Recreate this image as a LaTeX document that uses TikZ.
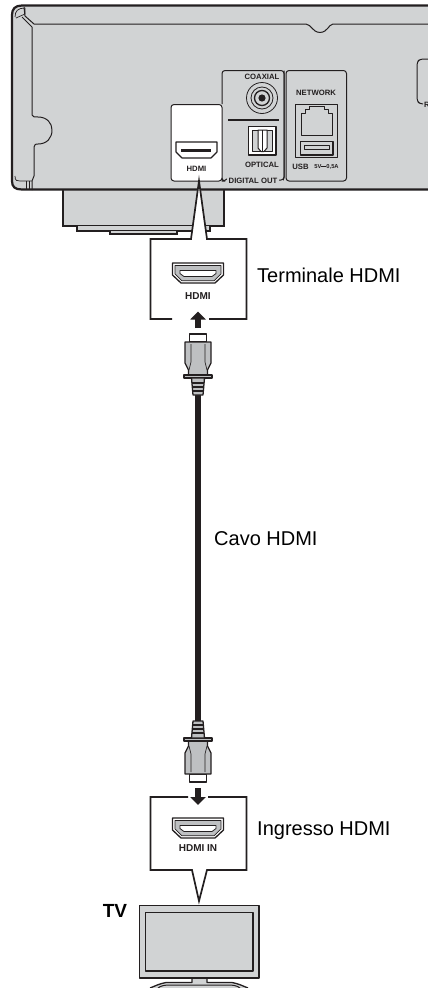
\documentclass[tikz,border=0pt]{standalone}
\usepackage{fontspec}
\setmainfont{Liberation Sans}
\usepackage{xcolor}
\usetikzlibrary{arrows.meta}
\definecolor{PanelGray}{RGB}{209,211,212}
\definecolor{PlugGray}{RGB}{190,192,194}
\definecolor{LineDark}{RGB}{35,31,32}
\tikzset{
    outline/.style={draw=LineDark, line width=1pt, line join=round},
    heavy/.style={draw=LineDark, line width=1.7pt, line join=miter},
    tinylabel/.style={font=\bfseries\fontsize{7.7}{8}\selectfont, text=LineDark, inner sep=0pt},
    calllabel/.style={font=\fontsize{20}{22}\selectfont, text=black, inner sep=0pt, anchor=west},
    flowarrow/.style={-{Triangle[length=8pt,width=15pt]}, line width=6pt, draw=LineDark}
}
\newcommand{\hdmisocket}[2]{%
\begin{scope}[shift={(#1,#2)}]
\draw[outline, line width=1.3pt, fill=white] (-25.5,-10) -- (25.5,-10) -- (25.5,2) -- (17,10) -- (-17,10) -- (-25.5,2) -- cycle;
\draw[outline, line width=0.7pt, fill=PlugGray] (-23,-7.5) -- (23,-7.5) -- (23,1) -- (16,7.8) -- (-16,7.8) -- (-23,1) -- cycle;
\draw[outline, line width=0.8pt, fill=white] (-18,-2.5) -- (18,-2.5) -- (18,0.5) -- (14,3.5) -- (-14,3.5) -- (-18,0.5) -- cycle;
\end{scope}}
\begin{document}
\begin{tikzpicture}[x=1pt, y=-1pt]
\useasboundingbox (0,0) rectangle (428,988);

% Player stand
\draw[heavy, fill=PanelGray] (63,190) -- (63,226) -- (224,226) -- (224,190);
\draw[heavy, fill=PanelGray] (77,226) -- (77,231) -- (210,231) -- (210,226);
\draw[heavy, fill=PanelGray] (110,231) -- (110,234) -- (177,234) -- (177,231);

% Player rear panel
\fill[PanelGray] (428,5) -- (22,5) .. controls (15,5) and (12,9) .. (12,15) -- (12,181) .. controls (12,187) and (15,190) .. (22,190) -- (428,190) -- cycle;
\draw[LineDark, line width=2.2pt] (428,5.5) -- (22,5.5) .. controls (15,5.5) and (12,9) .. (12,15) -- (12,181) .. controls (12,187) and (15,189.5) .. (22,189.5) -- (428,189.5);
\draw[outline, line width=0.7pt] (15,17) .. controls (15,11) and (18,8) .. (25,8) -- (25,14) -- (16,18);
\draw[outline] (24,7) -- (25,16) -- (34,24) -- (306,24) .. controls (312,25) and (312,32) .. (320,32.5) .. controls (328,32) and (328,25) .. (333,24) -- (428,24);
\draw[outline] (22,17) -- (32,27) -- (32,115) .. controls (32,117) and (35,117) .. (38,117) .. controls (47,117) and (52,123) .. (52,130) .. controls (52,138) and (47,144) .. (38,144) .. controls (36,144) and (34,144) .. (34,147) -- (34,176) -- (32,181) -- (32,190);
\draw[outline, line width=0.7pt] (15,176) .. controls (15,181) and (17,181) .. (20,181) -- (32,181);
\draw[outline, line width=0.7pt] (26,181) -- (26,189) (29,181) -- (29,189);

% Terminal frames
\draw[outline, fill=PanelGray, rounded corners=3pt] (222,104) -- (222,70.5) -- (284,70.5) -- (284,181) -- (228,181);
\draw[outline, fill=PanelGray, rounded corners=3pt] (286,70.5) rectangle (346.5,181);
\fill[PanelGray] (226,176) rectangle (283,185);
\draw[outline, rounded corners=3pt] (222,178) -- (222,181) -- (225,181) -- (227,179);
\draw[outline, rounded corners=3pt] (279,180) -- (284,180) -- (284,70.5);
\draw[outline, rounded corners=3pt] (428,59) -- (420,59) -- (417,62) -- (417,101) -- (420,104) -- (423,104);
\node[tinylabel, anchor=west] (pwrlabel) at (424,105) {R};

% HDMI terminal on player
\draw[outline, fill=white, rounded corners=3pt] (171,104.5) rectangle (222,181);
\draw[outline, line width=1.1pt, fill=white] (176,142) -- (217,142) -- (217,152) -- (211,158) -- (182,158) -- (176,152) -- cycle;
\fill[LineDark] (181,148.5) rectangle (211,152);
\node[tinylabel] (hdmiplayer) at (196.5,168.5) {HDMI};

% Coaxial terminal
\node[tinylabel] (coaxlabel) at (262,77) {COAXIAL};
\foreach \r/\w in {15.5/0.8, 11/0.8, 7.5/1.3} {
    \draw[LineDark, line width=\w pt] (262,98) circle (\r);
}
\fill[LineDark] (262,98) circle (3.6);
\draw[LineDark, line width=1.8pt] (228,120) -- (279,120);

% Optical terminal
\draw[outline, line width=1.3pt, fill=white] (248.5,126.5) rectangle (276,155);
\draw[outline, fill=PanelGray] (252,130) -- (272.5,130) -- (272.5,151) -- (252,151) -- cycle;
\draw[outline, fill=white] (258,130) -- (267,130) -- (267,148) -- (264,151.5) -- (261,151.5) -- (258,148) -- cycle;
\draw[outline, line width=0.7pt] (262.5,130) -- (262.5,151);
\node[tinylabel] (optlabel) at (262,164.5) {OPTICAL};
\node[tinylabel, fill=PanelGray, inner xsep=2pt, inner ysep=1pt] (digitalout) at (253,180.5) {DIGITAL OUT};

% Network and USB terminals
\node[tinylabel] (netlabel) at (316,92.5) {NETWORK};
\draw[outline] (295.5,104.5) -- (337.5,104.5) -- (337.5,157.5) -- (295.5,157.5) -- cycle;
\draw[outline, fill=PanelGray] (301,135) -- (301,113) -- (305,113) -- (305,109) -- (309,109) -- (309,106.5) -- (324,106.5) -- (324,109) -- (328,109) -- (328,113) -- (332.5,113) -- (332.5,135) -- cycle;
\draw[outline, line width=1.3pt] (300.5,141.5) rectangle (333,155);
\draw[outline, line width=0.7pt] (304,145) rectangle (329.5,149);
\node[tinylabel] (usblabel) at (300.5,167) {USB};
\node[tinylabel, font=\bfseries\fontsize{5.8}{6}\selectfont] (usbvolt) at (326.5,167) {5V\rule[1.3pt]{5pt}{1.2pt}0,5A};

% Upper callout
\draw[heavy, fill=white] (172,319) -- (150.5,319) -- (150.5,239) -- (191,239) -- (199,181) -- (207,239) -- (246.5,239) -- (246.5,319) -- (209,319);
\hdmisocket{198}{273}
\node[tinylabel, font=\bfseries\fontsize{10}{11}\selectfont] (hdmiterm) at (198,296) {HDMI};
\node[calllabel] (termlabel) at (257,275) {Terminale HDMI};

% Cable
\coordinate (cabletop) at (198,393);
\coordinate (cablebottom) at (198,724);
\draw[LineDark, line width=5.5pt] (cabletop) -- (cablebottom);
\node[calllabel] (cablelabel) at (214,539) {Cavo HDMI};

% Plugs
\foreach \ypos/\ydir in {334/1, 782/-1} {
    \begin{scope}[shift={(198,\ypos)}, yscale=\ydir]
    \draw[outline, line width=1.3pt, fill=white] (-8.5,0) rectangle (8.5,8);
    \draw[outline, line width=1.3pt, fill=PlugGray] (-13,8) -- (13,8) -- (13,29) -- (9.5,36) -- (9.5,41) -- (-9.5,41) -- (-9.5,36) -- (-13,29) -- cycle;
    \draw[outline, line width=0.7pt] (-7,10) -- (-7,28) -- (-9,36) (7,10) -- (7,28) -- (9,36);
    \draw[outline, line width=1.3pt, fill=PlugGray] (-14,41) rectangle (14,44);
    \draw[outline, line width=1.3pt, fill=PlugGray] (-6.5,44) -- (6.5,44) -- (5,61) -- (-5,61) -- cycle;
    \foreach \l in {49,53,57} {
        \draw[outline, line width=1.1pt] (-6,\l) -- (6,\l);
    }
    \end{scope}
}

% Lower callout
\draw[heavy, fill=white] (188,797) -- (150.5,797) -- (150.5,870) -- (192,870) -- (199,901) -- (207,870) -- (246.5,870) -- (246.5,797) -- (208,797);
\hdmisocket{198}{828}
\node[tinylabel, font=\bfseries\fontsize{10}{11}\selectfont] (hdmiin) at (198,848) {HDMI IN};
\node[calllabel] (inlabel) at (257,831) {Ingresso HDMI};

% Arrows into the terminals
\coordinate (arrowupstart) at (198,328);
\coordinate (arrowupend) at (198,311.5);
\draw[flowarrow] (arrowupstart) -- (arrowupend);
\coordinate (arrowdownstart) at (198,788);
\coordinate (arrowdownend) at (198,805);
\draw[flowarrow] (arrowdownstart) -- (arrowdownend);

% TV
\node[font=\bfseries\fontsize{19}{20}\selectfont, inner sep=0pt] (tvlabel) at (115,910.5) {TV};
\draw[outline, line width=1.3pt, fill=PanelGray] (150,988) .. controls (155,986) and (160,983.5) .. (166,982.5) -- (192,982.5) -- (192,978) -- (207,978) -- (207,982.5) -- (232,982.5) .. controls (238,983.5) and (243,986) .. (248,988);
\draw[outline, line width=1pt] (158,988) .. controls (161,985.5) and (165,985) .. (170,985) -- (228,985) .. controls (233,985) and (237,985.5) .. (240,988);
\draw[outline, line width=1.3pt, fill=PanelGray] (139.5,905.5) rectangle (259,978);
\draw[outline, line width=1.1pt] (145.5,912.5) rectangle (253,971);
\end{tikzpicture}
\end{document}
